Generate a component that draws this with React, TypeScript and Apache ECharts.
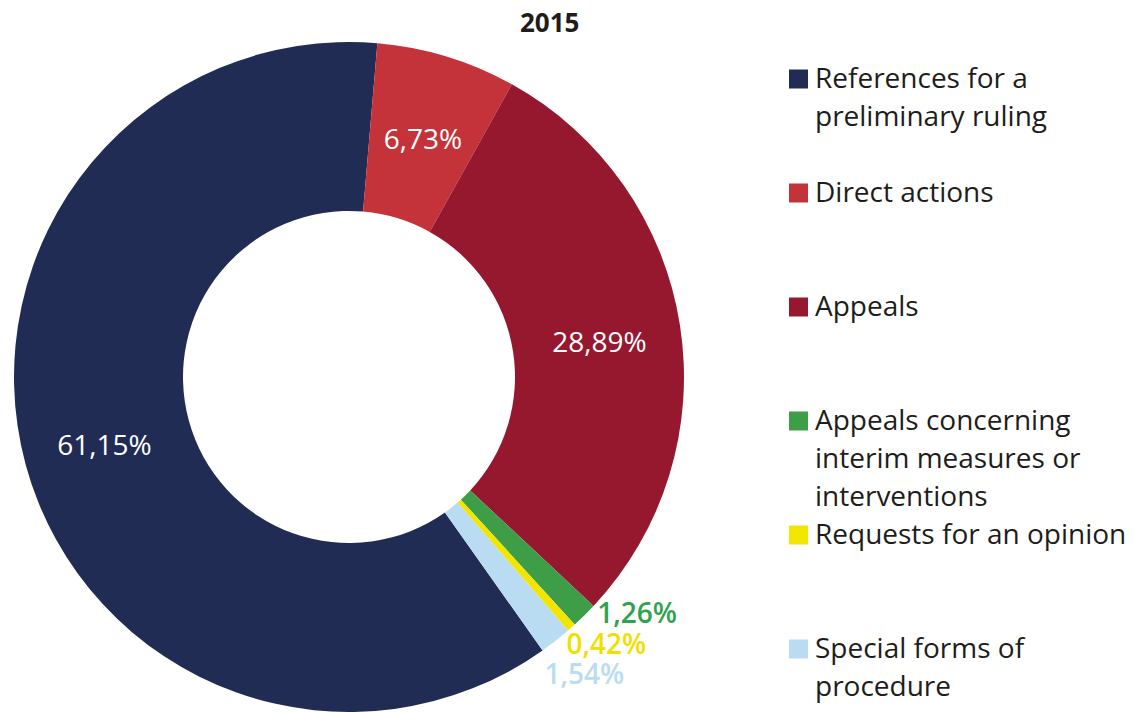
import React, { useEffect, useRef } from "react";
import * as echarts from "echarts";

const titleText = "2015";
const categories = [
  "References for a preliminary ruling",
  "Direct actions",
  "Appeals",
  "Appeals concerning interim measures or interventions",
  "Requests for an opinion",
  "Special forms of procedure",
];
const legendLabels = [
  "References for a\npreliminary ruling",
  "Direct actions",
  "Appeals",
  "Appeals concerning\ninterim measures or\ninterventions",
  "Requests for an opinion",
  "Special forms of\nprocedure",
];
const shares = [61.15, 6.73, 28.89, 1.26, 0.42, 1.54];
const sliceColors = ["#212c55", "#c4323a", "#96182e", "#3d9e47", "#f2e500", "#b9dcf2"];
const labelColors = ["#ffffff", "#ffffff", "#ffffff", "#2fa250", "#f0e000", "#b9dcf2"];

// label nudges (px) for the thin slices, whose labels sit outside the ring
const labelNudges: Array<[number, number] | null> = [null, [0, 3], [0, 3], [110, 55], [89, 76], [79, 96]];

const FONT = "'Open Sans', 'Noto Sans', sans-serif";

export default function App() {
  const ref = useRef<HTMLDivElement>(null);
  useEffect(() => {
    document.body.style.margin = "0";
    if (!ref.current) return;
    const chart = echarts.init(ref.current, null, { renderer: "svg" });
    const legendTop0 = 69.5;
    const legendStep = 114;
    const graphics: any[] = [];
    legendLabels.forEach((lab, i) => {
      const top = legendTop0 + i * legendStep;
      graphics.push({
        type: "rect",
        shape: { x: 789, y: top, width: 19, height: 19 },
        style: { fill: sliceColors[i] },
      });
      graphics.push({
        type: "text",
        x: 815,
        y: top - 11.5,
        style: {
          text: lab,
          fontSize: 28,
          lineHeight: 38,
          fontFamily: FONT,
          fill: "#1d1d1b",
          verticalAlign: "top",
          textAlign: "left",
        },
      });
    });
    chart.setOption({
      animation: false,
      title: {
        text: titleText,
        left: 515,
        top: 4,
        textStyle: { fontSize: 26, fontWeight: "bold", fontFamily: FONT, color: "#1d1d1b" },
      },
      graphic: graphics,
      series: [
        {
          type: "pie",
          center: [349, 377],
          radius: [166, 335],
          startAngle: 305.3,
          clockwise: true,
          avoidLabelOverlap: false,
          itemStyle: { borderWidth: 0 },
          label: {
            show: true,
            position: "inside",
            fontSize: 28,
            lineHeight: 24,
            fontFamily: FONT,
            formatter: (p: any) => p.value.toFixed(2).replace(".", ",") + "%",
          },
          labelLine: { show: false },
          labelLayout: (params: any) => {
            const n = labelNudges[params.dataIndex];
            return n ? { dx: n[0], dy: n[1] } : {};
          },
          emphasis: { disabled: true },
          data: categories.map((name, i) => ({
            name,
            value: shares[i],
            itemStyle: { color: sliceColors[i] },
            label: {
              color: labelColors[i],
              fontWeight: i >= 3 ? 600 : "normal",
            },
          })),
        },
      ],
    });
    return () => chart.dispose();
  }, []);
  return <div ref={ref} style={{ width: 1134, height: 712 }} />;
}
